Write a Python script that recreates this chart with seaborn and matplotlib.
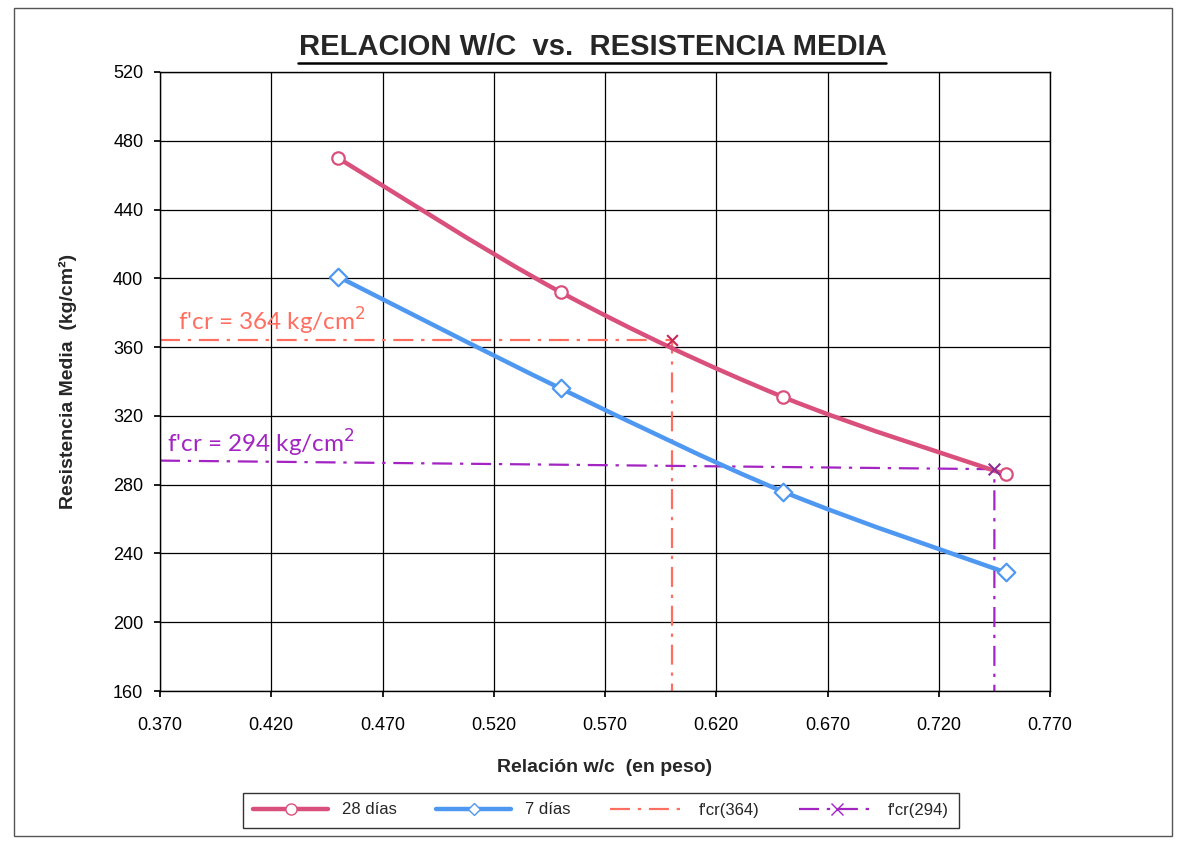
import numpy as np
import pandas as pd
import matplotlib
matplotlib.use('Agg')
import matplotlib.pyplot as plt
import seaborn as sns
from matplotlib.path import Path
from matplotlib.patches import PathPatch
from matplotlib.lines import Line2D
from matplotlib.ticker import FormatStrFormatter

# data
wc = [0.45, 0.55, 0.65, 0.75]
res_28 = [470, 392, 331, 286]
res_7 = [401, 336, 276, 229]

fcr_364_x = [0.370, 0.600, 0.600]
fcr_364_y = [364, 364, 160]
fcr_294_x = [0.370, 0.745, 0.745]
fcr_294_y = [294, 289, 160]

x_ticks = [0.370, 0.420, 0.470, 0.520, 0.570, 0.620, 0.670, 0.720, 0.770]
y_ticks = [160, 200, 240, 280, 320, 360, 400, 440, 480, 520]

C28 = '#D9507C'
C7 = '#4F98F2'
C364 = '#FF6F61'
C294 = '#A324C2'
DASH = (9, 3.5, 1.5, 3.5)


def smooth_path(xs, ys):
    """Excel-like smoothed line as cubic bezier (Catmull-Rom control points)."""
    p = np.column_stack([xs, ys]).astype(float)
    ext = np.vstack([p[0], p, p[-1]])
    verts = [p[0]]
    codes = [Path.MOVETO]
    for i in range(1, len(ext) - 2):
        p0, p1, p2, p3 = ext[i - 1], ext[i], ext[i + 1], ext[i + 2]
        verts += [p1 + (p2 - p0) / 6, p2 - (p3 - p1) / 6, p2]
        codes += [Path.CURVE4] * 3
    return Path(verts, codes)


sns.set_theme(style='white')
plt.rcParams['font.family'] = ['Liberation Sans', 'DejaVu Sans']

fig = plt.figure(figsize=(11.79, 8.44), dpi=100)
ax = fig.add_axes([160 / 1179, 1 - 691 / 844, 890 / 1179, 619 / 844])

# reference lines
ax.plot(fcr_364_x, fcr_364_y, color=C364, lw=1.6, dashes=DASH, zorder=2)
ax.plot(fcr_294_x, fcr_294_y, color=C294, lw=1.6, dashes=DASH, zorder=2)
ax.scatter([fcr_364_x[1]], [fcr_364_y[1]], marker='x', color='#C8285A', s=60, lw=1.5, zorder=5)
ax.scatter([fcr_294_x[1]], [fcr_294_y[1]], marker='x', color='#8A2C9A', s=70, lw=1.5, zorder=5)

# smoothed curves
ax.add_patch(PathPatch(smooth_path(wc, res_28), fill=False, edgecolor=C28, lw=3.2, zorder=3))
ax.add_patch(PathPatch(smooth_path(wc, res_7), fill=False, edgecolor=C7, lw=3.2, zorder=3))

df = pd.DataFrame({'wc': wc, 'r28': res_28, 'r7': res_7})
sns.scatterplot(data=df, x='wc', y='r28', ax=ax, marker='o', s=80, color='white',
                edgecolor=C28, linewidth=1.6, zorder=4)
sns.scatterplot(data=df, x='wc', y='r7', ax=ax, marker='D', s=80, color='white',
                edgecolor=C7, linewidth=1.6, zorder=4)

ax.set_xlim(0.370, 0.770)
ax.set_ylim(160, 520)
ax.set_xticks(x_ticks)
ax.set_yticks(y_ticks)
ax.xaxis.set_major_formatter(FormatStrFormatter('%.3f'))
ax.grid(True, color='black', lw=0.9)
ax.set_axisbelow(True)
for s in ax.spines.values():
    s.set_color('black')
    s.set_linewidth(1.0)
ax.tick_params(axis='both', labelsize=13, colors='black', length=4, direction='out',
               left=True, bottom=True)
ax.tick_params(axis='x', pad=15)
ax.tick_params(axis='y', pad=8)
ax.set_xlabel('Relación w/c  (en peso)', fontsize=14, fontweight='bold', labelpad=18)
ax.set_ylabel('Resistencia Media  (kg/cm²)', fontsize=14, fontweight='bold', labelpad=26)

fig.text(0.503, 1 - 47 / 844, 'RELACION W/C  vs.  RESISTENCIA MEDIA', ha='center',
         va='center', fontsize=21, fontweight='bold')
fig.add_artist(Line2D([298 / 1179, 886 / 1179], [1 - 63 / 844, 1 - 63 / 844],
                      color='black', lw=1.8))

ax.text(0.378, 369.5, "f'cr = 364 kg/cm$^2$", color=C364, fontsize=17.5,
        family=['Lato', 'DejaVu Sans'])
ax.text(0.373, 298.5, "f'cr = 294 kg/cm$^2$", color=C294, fontsize=17.5,
        family=['Lato', 'DejaVu Sans'])

handles = [
    Line2D([], [], color=C28, lw=3.2, marker='o', markersize=8, markerfacecolor='white',
           markeredgecolor=C28),
    Line2D([], [], color=C7, lw=3.2, marker='D', markersize=6, markerfacecolor='white',
           markeredgecolor=C7),
    Line2D([], [], color=C364, lw=1.6, dashes=DASH),
    Line2D([], [], color=C294, lw=1.6, dashes=DASH, marker='x', markersize=8),
]
leg = fig.legend(handles, ['28 días', '7 días', "f'cr(364)", "f'cr(294)"],
                 loc='center', bbox_to_anchor=(601 / 1179, 1 - 810 / 844), ncol=4,
                 fontsize=12, frameon=True, fancybox=False, edgecolor='black',
                 handlelength=4.5, columnspacing=2.4, borderpad=0.6)
leg.get_frame().set_linewidth(1.0)

fig.add_artist(plt.Rectangle((14 / 1179, 8 / 844), 1158 / 1179, 828 / 844, fill=False,
                             edgecolor='#555555', lw=1.0, transform=fig.transFigure))

fig.savefig('out.png', dpi=100)
